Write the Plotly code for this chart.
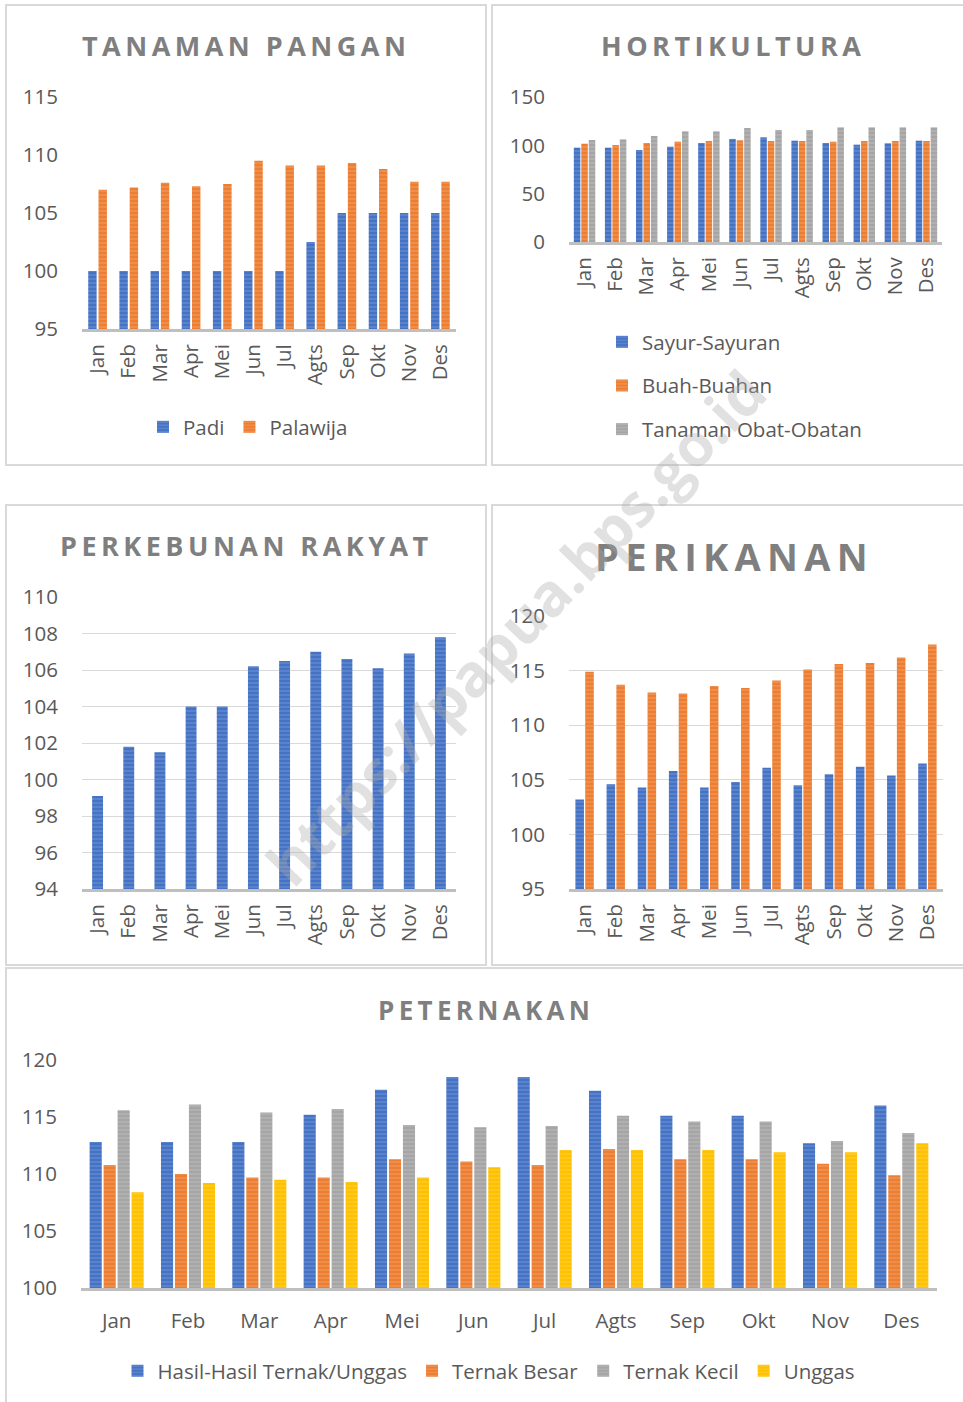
import plotly.graph_objects as go

W, H = 963, 1402

months = ["Jan", "Feb", "Mar", "Apr", "Mei", "Jun", "Jul", "Agts", "Sep", "Okt", "Nov", "Des"]

# Tanaman Pangan
padi = [100, 100, 100, 100, 100, 100, 100, 102.5, 105, 105, 105, 105]
palawija = [107.0, 107.2, 107.6, 107.3, 107.5, 109.5, 109.1, 109.1, 109.3, 108.8, 107.7, 107.7]

# Hortikultura
sayur = [97.6, 97.6, 95.2, 98.6, 102.4, 106.6, 108.3, 104.8, 102.4, 100.7, 102.1, 104.8]
buah = [101.7, 100.3, 102.4, 103.8, 104.5, 105.2, 104.5, 104.5, 103.8, 104.5, 104.5, 104.5]
obat = [105.5, 106.2, 109.7, 114.5, 114.5, 117.9, 115.9, 115.9, 118.6, 118.6, 118.6, 118.6]

# Perkebunan Rakyat
kebun = [99.1, 101.8, 101.5, 104.0, 104.0, 106.2, 106.5, 107.0, 106.6, 106.1, 106.9, 107.8]

# Perikanan
ikan_biru = [103.2, 104.6, 104.3, 105.8, 104.3, 104.8, 106.1, 104.5, 105.5, 106.2, 105.4, 106.5]
ikan_oranye = [114.9, 113.7, 113.0, 112.9, 113.6, 113.4, 114.1, 115.1, 115.6, 115.7, 116.2, 117.4]

# Peternakan
hasil = [112.8, 112.8, 112.8, 115.2, 117.4, 118.5, 118.5, 117.3, 115.1, 115.1, 112.7, 116.0]
ternak_besar = [110.8, 110.0, 109.7, 109.7, 111.3, 111.1, 110.8, 112.2, 111.3, 111.3, 110.9, 109.9]
ternak_kecil = [115.6, 116.1, 115.4, 115.7, 114.3, 114.1, 114.2, 115.1, 114.6, 114.6, 112.9, 113.6]
unggas = [108.4, 109.2, 109.5, 109.3, 109.7, 110.6, 112.1, 112.1, 112.1, 111.9, 111.9, 112.7]

BLUE, ORANGE, GRAY, YELLOW = "#4472C4", "#ED7D31", "#A5A5A5", "#FFC000"
FONT = "Open Sans"
TICK_COLOR = "#595959"
TITLE_COLOR = "#7F7F7F"
TICK_SIZE = 20.5


def px_x(p):
    return p / W


def px_y(p):
    return 1 - p / H


def pat():
    return dict(shape="-", fgcolor="rgba(255,255,255,0.4)", size=4, solidity=0.3)


def bar(x, y, color, name, xa, ya, offset, width, legend=None, show=True, group=None):
    return go.Bar(
        x=x, y=y, name=name, xaxis=xa, yaxis=ya,
        marker=dict(color=color, line=dict(width=0), pattern=pat()),
        offset=offset, width=width,
        legend=legend if legend else "legend",
        showlegend=show, legendgroup=group if group else name,
        hoverinfo="x+y+name",
    )


fig = go.Figure()

# Panel 1
fig.add_trace(bar(months, padi, BLUE, "Padi", "x", "y", -0.30, 0.27, "legend"))
fig.add_trace(bar(months, palawija, ORANGE, "Palawija", "x", "y", 0.03, 0.27, "legend"))
# Panel 2
fig.add_trace(bar(months, sayur, BLUE, "Sayur-Sayuran", "x2", "y2", -0.345, 0.21, "legend2"))
fig.add_trace(bar(months, buah, ORANGE, "Buah-Buahan", "x2", "y2", -0.105, 0.21, "legend2"))
fig.add_trace(bar(months, obat, GRAY, "Tanaman Obat-Obatan", "x2", "y2", 0.135, 0.21, "legend2"))
# Panel 3
fig.add_trace(bar(months, kebun, BLUE, "Perkebunan Rakyat", "x3", "y3", -0.175, 0.35, show=False))
# Panel 4
fig.add_trace(bar(months, ikan_biru, BLUE, "Perikanan 1", "x4", "y4", -0.295, 0.275, show=False))
fig.add_trace(bar(months, ikan_oranye, ORANGE, "Perikanan 2", "x4", "y4", 0.02, 0.275, show=False))
# Panel 5
w5 = 0.17
g5 = 0.026
start5 = -(4 * w5 + 3 * g5) / 2
for i, (vals, col, nm) in enumerate([
    (hasil, BLUE, "Hasil-Hasil Ternak/Unggas"),
    (ternak_besar, ORANGE, "Ternak Besar"),
    (ternak_kecil, GRAY, "Ternak Kecil"),
    (unggas, YELLOW, "Unggas"),
]):
    fig.add_trace(bar(months, vals, col, nm, "x5", "y5", start5 + i * (w5 + g5), w5, "legend3"))

panels = {
    "": dict(x=(82, 456), y=(97, 329), rng=(95, 115), dtick=5, grid=False, angle=-90),
    "2": dict(x=(569, 942), y=(97, 242), rng=(0, 150), dtick=50, grid=False, angle=-90),
    "3": dict(x=(82, 456), y=(597, 889), rng=(94, 110), dtick=2, grid=True, angle=-90),
    "4": dict(x=(569, 943), y=(616, 889), rng=(95, 120), dtick=5, grid=True, angle=-90),
    "5": dict(x=(81, 937), y=(1060, 1288), rng=(100, 120), dtick=5, grid=False, angle=0),
}

layout = {}
for k, p in panels.items():
    layout["xaxis" + k] = dict(
        domain=[px_x(p["x"][0]), px_x(p["x"][1])],
        anchor="y" + k, type="category", categoryorder="array", categoryarray=months,
        showline=True, linecolor="#BFBFBF", linewidth=3, showgrid=False,
        ticks="", tickangle=p["angle"], fixedrange=True,
        tickfont=dict(family=FONT, size=TICK_SIZE, color=TICK_COLOR),
        ticklabelstandoff=4 if p["angle"] else 12,
        zeroline=False, automargin=False,
    )
    layout["yaxis" + k] = dict(
        domain=[px_y(p["y"][1]), px_y(p["y"][0])],
        anchor="x" + k, range=list(p["rng"]), dtick=p["dtick"], tick0=0,
        showline=False, showgrid=p["grid"], gridcolor="#D9D9D9", gridwidth=1,
        zeroline=False, ticks="", fixedrange=True,
        tickfont=dict(family=FONT, size=TICK_SIZE, color=TICK_COLOR),
        ticklabelstandoff=23, automargin=False,
    )

fig.update_layout(**layout)


def spaced(s):
    return "\u2009".join(s)


titles = [
    ("TANAMAN PANGAN", 244, 45, 27),
    ("HORTIKULTURA", 731, 45, 27),
    ("PERKEBUNAN RAKYAT", 244, 546, 27),
    ("PERIKANAN", 731, 556, 38),
    ("PETERNAKAN", 484, 1010, 26),
]
annotations = []
for t, cx, cy, sz in titles:
    annotations.append(dict(
        text="<b>" + spaced(t) + "</b>", x=px_x(cx), y=px_y(cy), xref="paper", yref="paper",
        xanchor="center", yanchor="middle", showarrow=False,
        font=dict(family=FONT, size=sz, color=TITLE_COLOR),
    ))

annotations.append(dict(
    text="<b>https://papua.bps.go.id</b>", x=px_x(515), y=px_y(627), xref="paper", yref="paper",
    xanchor="center", yanchor="middle", showarrow=False, textangle=-46,
    font=dict(family=FONT, size=59, color="rgba(170,170,170,0.35)"),
))

shapes = []
for (x0, y0, x1, y1) in [(6, 5, 486, 465), (492, 5, 966, 465), (6, 505, 486, 965),
                         (492, 505, 966, 965), (6, 968, 966, 1406)]:
    shapes.append(dict(type="rect", xref="paper", yref="paper",
                       x0=px_x(x0), x1=px_x(x1), y0=px_y(y1), y1=px_y(y0),
                       line=dict(color="#D9D9D9", width=2), fillcolor="rgba(0,0,0,0)", layer="above"))

legend_font = dict(family=FONT, size=TICK_SIZE, color=TICK_COLOR)
fig.update_layout(
    width=W, height=H,
    margin=dict(l=0, r=0, t=0, b=0, pad=0, autoexpand=False),
    paper_bgcolor="white", plot_bgcolor="white",
    barmode="group",
    annotations=annotations, shapes=shapes,
    font=dict(family=FONT, color=TICK_COLOR),
    legend=dict(orientation="h", x=px_x(248), y=px_y(427), xanchor="center", yanchor="middle",
                font=legend_font, bgcolor="rgba(0,0,0,0)"),
    legend2=dict(orientation="v", x=px_x(602), y=px_y(322), xanchor="left", yanchor="top",
                 font=legend_font, tracegroupgap=14, bgcolor="rgba(0,0,0,0)"),
    legend3=dict(orientation="h", x=px_x(489), y=px_y(1371), xanchor="center", yanchor="middle",
                 font=legend_font, bgcolor="rgba(0,0,0,0)"),
    hovermode="closest",
)

fig.write_html(
    "out.html",
    config={"displayModeBar": False},
    post_script="document.body.style.margin='0';document.body.style.overflow='hidden';",
)
